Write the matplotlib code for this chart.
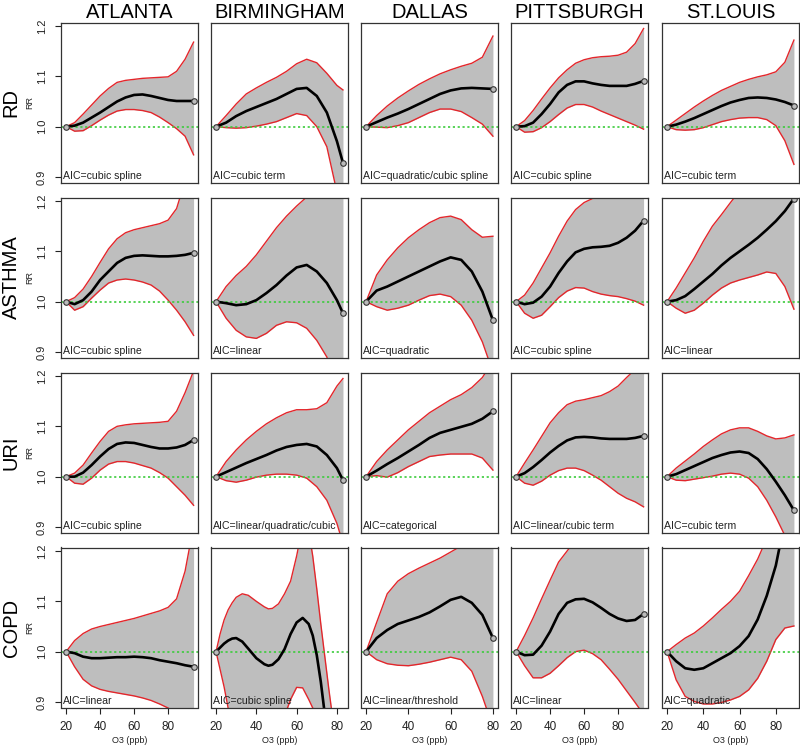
import numpy as np
import matplotlib
matplotlib.use("Agg")
import matplotlib.pyplot as plt

plt.rcParams['font.family'] = ['Liberation Sans', 'DejaVu Sans']

cities = ["ATLANTA", "BIRMINGHAM", "DALLAS", "PITTSBURGH", "ST.LOUIS"]
outcomes = ["RD", "ASTHMA", "URI", "COPD"]

# O3 grid (ppb) per city
atl_x = [20, 25, 30, 35, 40, 45, 50, 55, 60, 65, 70, 75, 80, 85, 90, 95]
bhm_x = [20, 25, 30, 35, 40, 45, 50, 55, 60, 65, 70, 75, 80, 83]
dal_x = [20, 25, 30, 35, 40, 45, 50, 55, 60, 65, 70, 75, 80]
pit_x = [20, 25, 30, 35, 40, 45, 50, 55, 60, 65, 70, 75, 80, 85, 90, 95]
stl_x = [20, 25, 30, 35, 40, 45, 50, 55, 60, 65, 70, 75, 80, 85, 90]
bhm_copd_x = [20, 22, 24, 26, 28, 30, 33, 36, 40, 44, 46, 48, 51, 54, 57, 60, 63, 66, 68, 70, 72, 74, 76, 78, 80, 83]

# RD
rd_atl_fit = [1.000, 1.002, 1.008, 1.018, 1.028, 1.039, 1.050, 1.058, 1.063, 1.064, 1.061, 1.057, 1.053, 1.051, 1.051, 1.051]
rd_atl_hi = [1.000, 1.008, 1.025, 1.043, 1.061, 1.076, 1.088, 1.092, 1.094, 1.096, 1.097, 1.098, 1.099, 1.110, 1.134, 1.168]
rd_atl_lo = [1.000, 0.991, 0.992, 1.002, 1.013, 1.023, 1.031, 1.034, 1.034, 1.032, 1.028, 1.019, 1.008, 0.996, 0.981, 0.944]
rd_bhm_fit = [1.000, 1.008, 1.021, 1.031, 1.039, 1.047, 1.055, 1.065, 1.075, 1.077, 1.061, 1.028, 0.971, 0.928]
rd_bhm_hi = [1.000, 1.022, 1.045, 1.065, 1.077, 1.088, 1.098, 1.110, 1.125, 1.134, 1.127, 1.106, 1.082, 1.073]
rd_bhm_lo = [1.000, 0.998, 0.997, 0.998, 1.001, 1.005, 1.010, 1.018, 1.026, 1.022, 1.000, 0.960, 0.870, 0.820]
rd_dal_fit = [1.000, 1.009, 1.018, 1.026, 1.035, 1.045, 1.055, 1.065, 1.072, 1.076, 1.077, 1.076, 1.075]
rd_dal_hi = [1.000, 1.022, 1.041, 1.057, 1.071, 1.084, 1.095, 1.105, 1.113, 1.120, 1.126, 1.138, 1.180]
rd_dal_lo = [1.000, 0.999, 0.998, 1.002, 1.008, 1.018, 1.028, 1.035, 1.035, 1.030, 1.018, 1.005, 0.981]
rd_pit_fit = [1.000, 1.001, 1.008, 1.025, 1.045, 1.068, 1.083, 1.090, 1.090, 1.086, 1.083, 1.081, 1.081, 1.081, 1.085, 1.091]
rd_pit_hi = [1.000, 1.012, 1.032, 1.055, 1.077, 1.097, 1.113, 1.126, 1.133, 1.137, 1.139, 1.140, 1.142, 1.148, 1.165, 1.195]
rd_pit_lo = [1.000, 0.989, 0.990, 0.998, 1.010, 1.024, 1.037, 1.044, 1.044, 1.039, 1.031, 1.024, 1.017, 1.010, 1.003, 0.995]
rd_stl_fit = [1.000, 1.004, 1.010, 1.017, 1.025, 1.033, 1.041, 1.048, 1.053, 1.057, 1.058, 1.057, 1.054, 1.049, 1.042]
rd_stl_hi = [1.000, 1.013, 1.026, 1.039, 1.051, 1.062, 1.072, 1.080, 1.088, 1.094, 1.099, 1.103, 1.109, 1.128, 1.172]
rd_stl_lo = [1.000, 0.994, 0.993, 0.994, 0.998, 1.004, 1.010, 1.014, 1.017, 1.018, 1.018, 1.014, 1.002, 0.972, 0.925]

# ASTHMA
as_atl_fit = [1.000, 0.995, 1.003, 1.020, 1.043, 1.060, 1.077, 1.087, 1.091, 1.092, 1.091, 1.090, 1.090, 1.091, 1.093, 1.097]
as_atl_hi = [1.000, 1.008, 1.025, 1.050, 1.078, 1.105, 1.125, 1.137, 1.143, 1.147, 1.151, 1.155, 1.162, 1.185, 1.240, 1.300]
as_atl_lo = [1.000, 0.983, 0.990, 1.007, 1.023, 1.037, 1.043, 1.045, 1.043, 1.039, 1.033, 1.021, 1.003, 0.983, 0.960, 0.933]
as_bhm_fit = [1.000, 0.997, 0.993, 0.995, 1.003, 1.017, 1.033, 1.052, 1.068, 1.073, 1.060, 1.037, 1.003, 0.977]
as_bhm_hi = [1.000, 1.030, 1.052, 1.070, 1.093, 1.120, 1.147, 1.170, 1.190, 1.208, 1.240, 1.270, 1.300, 1.320]
as_bhm_lo = [1.000, 0.967, 0.943, 0.930, 0.927, 0.937, 0.953, 0.960, 0.958, 0.947, 0.923, 0.890, 0.830, 0.790]
as_dal_fit = [1.000, 1.022, 1.030, 1.040, 1.050, 1.060, 1.070, 1.080, 1.088, 1.083, 1.060, 1.020, 0.963]
as_dal_hi = [1.000, 1.053, 1.083, 1.107, 1.127, 1.143, 1.157, 1.167, 1.170, 1.163, 1.143, 1.128, 1.130]
as_dal_lo = [1.000, 0.990, 0.983, 0.987, 0.993, 1.003, 1.012, 1.015, 1.010, 0.993, 0.963, 0.920, 0.860]
as_pit_fit = [1.000, 0.995, 0.998, 1.010, 1.030, 1.057, 1.080, 1.098, 1.105, 1.108, 1.109, 1.111, 1.117, 1.127, 1.141, 1.161]
as_pit_hi = [1.000, 1.013, 1.037, 1.067, 1.097, 1.130, 1.160, 1.183, 1.197, 1.205, 1.210, 1.215, 1.230, 1.250, 1.280, 1.320]
as_pit_lo = [1.000, 0.977, 0.967, 0.973, 0.990, 1.008, 1.021, 1.028, 1.027, 1.020, 1.015, 1.012, 1.010, 1.006, 1.001, 0.993]
as_stl_fit = [1.000, 1.003, 1.011, 1.025, 1.040, 1.055, 1.072, 1.087, 1.100, 1.113, 1.127, 1.143, 1.160, 1.180, 1.205]
as_stl_hi = [1.000, 1.027, 1.057, 1.087, 1.120, 1.150, 1.173, 1.197, 1.220, 1.245, 1.270, 1.295, 1.320, 1.345, 1.370]
as_stl_lo = [1.000, 0.987, 0.977, 0.983, 0.997, 1.013, 1.027, 1.037, 1.043, 1.048, 1.053, 1.059, 1.056, 1.030, 0.985]

# URI
ur_atl_fit = [1.000, 1.000, 1.008, 1.023, 1.040, 1.055, 1.065, 1.068, 1.067, 1.063, 1.059, 1.056, 1.056, 1.058, 1.063, 1.073]
ur_atl_hi = [1.000, 1.007, 1.023, 1.047, 1.070, 1.090, 1.100, 1.103, 1.105, 1.106, 1.107, 1.108, 1.110, 1.130, 1.167, 1.210]
ur_atl_lo = [1.000, 0.987, 0.985, 0.997, 1.013, 1.025, 1.030, 1.030, 1.027, 1.022, 1.017, 1.008, 0.997, 0.980, 0.963, 0.943]
ur_bhm_fit = [1.000, 1.009, 1.018, 1.027, 1.035, 1.043, 1.052, 1.059, 1.063, 1.065, 1.060, 1.043, 1.017, 0.993]
ur_bhm_hi = [1.000, 1.030, 1.053, 1.073, 1.090, 1.105, 1.117, 1.127, 1.133, 1.133, 1.135, 1.147, 1.180, 1.195]
ur_bhm_lo = [1.000, 0.992, 0.989, 0.993, 0.999, 1.003, 1.005, 1.005, 1.003, 0.997, 0.980, 0.953, 0.907, 0.867]
ur_dal_fit = [1.000, 1.012, 1.025, 1.037, 1.050, 1.063, 1.077, 1.087, 1.093, 1.099, 1.105, 1.115, 1.130]
ur_dal_hi = [1.000, 1.030, 1.053, 1.073, 1.093, 1.110, 1.127, 1.140, 1.153, 1.163, 1.177, 1.197, 1.230]
ur_dal_lo = [1.000, 1.002, 0.999, 1.008, 1.020, 1.030, 1.040, 1.043, 1.045, 1.045, 1.045, 1.037, 1.013]
ur_pit_fit = [1.000, 1.007, 1.019, 1.033, 1.048, 1.061, 1.072, 1.078, 1.079, 1.078, 1.076, 1.075, 1.075, 1.075, 1.077, 1.081]
ur_pit_hi = [1.000, 1.027, 1.053, 1.080, 1.107, 1.127, 1.143, 1.150, 1.153, 1.157, 1.161, 1.169, 1.180, 1.197, 1.213, 1.240]
ur_pit_lo = [1.000, 0.987, 0.983, 0.991, 1.003, 1.012, 1.017, 1.017, 1.012, 1.003, 0.993, 0.980, 0.967, 0.957, 0.950, 0.940]
ur_stl_fit = [1.000, 1.005, 1.013, 1.021, 1.029, 1.037, 1.043, 1.048, 1.050, 1.047, 1.035, 1.015, 0.990, 0.963, 0.933]
ur_stl_hi = [1.000, 1.017, 1.031, 1.045, 1.060, 1.073, 1.085, 1.093, 1.097, 1.097, 1.090, 1.081, 1.075, 1.077, 1.083]
ur_stl_lo = [1.000, 0.993, 0.992, 0.995, 0.998, 1.001, 1.005, 1.007, 1.005, 0.997, 0.980, 0.953, 0.920, 0.883, 0.840]

# COPD
co_atl_fit = [1.000, 0.997, 0.990, 0.987, 0.987, 0.988, 0.989, 0.989, 0.990, 0.989, 0.987, 0.983, 0.980, 0.977, 0.973, 0.970]
co_atl_hi = [1.000, 1.022, 1.036, 1.045, 1.050, 1.054, 1.058, 1.062, 1.066, 1.071, 1.076, 1.081, 1.088, 1.105, 1.160, 1.250]
co_atl_lo = [1.000, 0.970, 0.945, 0.932, 0.925, 0.921, 0.918, 0.915, 0.912, 0.908, 0.903, 0.896, 0.888, 0.875, 0.860, 0.845]
co_bhm_fit = [1.000, 1.008, 1.016, 1.022, 1.026, 1.027, 1.020, 1.006, 0.987, 0.975, 0.972, 0.974, 0.985, 1.005, 1.035, 1.058, 1.067, 1.055, 1.032, 0.993, 0.940, 0.875, 0.810, 0.750, 0.690, 0.600]
co_bhm_hi = [1.000, 1.035, 1.063, 1.083, 1.097, 1.108, 1.115, 1.112, 1.100, 1.089, 1.085, 1.086, 1.095, 1.115, 1.140, 1.190, 1.250, 1.240, 1.190, 1.125, 1.055, 0.990, 0.925, 0.865, 0.810, 0.730]
co_bhm_lo = [1.000, 0.965, 0.930, 0.888, 0.860, 0.840, 0.820, 0.810, 0.805, 0.810, 0.815, 0.825, 0.845, 0.872, 0.905, 0.929, 0.928, 0.905, 0.888, 0.870, 0.850, 0.830, 0.810, 0.790, 0.770, 0.740]
co_dal_fit = [1.000, 1.027, 1.043, 1.055, 1.062, 1.069, 1.078, 1.090, 1.103, 1.109, 1.097, 1.073, 1.027]
co_dal_hi = [1.000, 1.058, 1.115, 1.140, 1.155, 1.166, 1.176, 1.186, 1.198, 1.210, 1.220, 1.230, 1.240]
co_dal_lo = [1.000, 0.984, 0.976, 0.973, 0.972, 0.975, 0.979, 0.984, 0.989, 0.984, 0.961, 0.911, 0.850]
co_pit_fit = [1.000, 0.993, 0.994, 1.012, 1.040, 1.075, 1.097, 1.104, 1.105, 1.098, 1.087, 1.075, 1.066, 1.061, 1.063, 1.075]
co_pit_hi = [1.000, 1.032, 1.067, 1.105, 1.142, 1.178, 1.200, 1.222, 1.240, 1.260, 1.280, 1.300, 1.320, 1.340, 1.360, 1.380]
co_pit_lo = [1.000, 0.972, 0.948, 0.948, 0.957, 0.972, 0.988, 1.000, 1.003, 0.996, 0.984, 0.965, 0.945, 0.922, 0.899, 0.875]
co_stl_fit = [1.000, 0.981, 0.967, 0.964, 0.967, 0.977, 0.987, 0.997, 1.011, 1.031, 1.064, 1.111, 1.171, 1.260, 1.330]
co_stl_hi = [1.000, 1.014, 1.027, 1.037, 1.051, 1.067, 1.084, 1.100, 1.120, 1.151, 1.184, 1.225, 1.270, 1.310, 1.350]
co_stl_lo = [1.000, 0.944, 0.911, 0.901, 0.896, 0.896, 0.899, 0.904, 0.911, 0.924, 0.947, 0.981, 1.024, 1.047, 1.051]

aic = [
    ["AIC=cubic spline", "AIC=cubic term", "AIC=quadratic/cubic spline", "AIC=cubic spline", "AIC=cubic term"],
    ["AIC=cubic spline", "AIC=linear", "AIC=quadratic", "AIC=cubic spline", "AIC=linear"],
    ["AIC=cubic spline", "AIC=linear/quadratic/cubic", "AIC=categorical", "AIC=linear/cubic term", "AIC=cubic term"],
    ["AIC=linear", "AIC=cubic spline", "AIC=linear/threshold", "AIC=linear", "AIC=quadratic"],
]

panels = [
    [(atl_x, rd_atl_fit, rd_atl_lo, rd_atl_hi), (bhm_x, rd_bhm_fit, rd_bhm_lo, rd_bhm_hi),
     (dal_x, rd_dal_fit, rd_dal_lo, rd_dal_hi), (pit_x, rd_pit_fit, rd_pit_lo, rd_pit_hi),
     (stl_x, rd_stl_fit, rd_stl_lo, rd_stl_hi)],
    [(atl_x, as_atl_fit, as_atl_lo, as_atl_hi), (bhm_x, as_bhm_fit, as_bhm_lo, as_bhm_hi),
     (dal_x, as_dal_fit, as_dal_lo, as_dal_hi), (pit_x, as_pit_fit, as_pit_lo, as_pit_hi),
     (stl_x, as_stl_fit, as_stl_lo, as_stl_hi)],
    [(atl_x, ur_atl_fit, ur_atl_lo, ur_atl_hi), (bhm_x, ur_bhm_fit, ur_bhm_lo, ur_bhm_hi),
     (dal_x, ur_dal_fit, ur_dal_lo, ur_dal_hi), (pit_x, ur_pit_fit, ur_pit_lo, ur_pit_hi),
     (stl_x, ur_stl_fit, ur_stl_lo, ur_stl_hi)],
    [(atl_x, co_atl_fit, co_atl_lo, co_atl_hi), (bhm_copd_x, co_bhm_fit, co_bhm_lo, co_bhm_hi),
     (dal_x, co_dal_fit, co_dal_lo, co_dal_hi), (pit_x, co_pit_fit, co_pit_lo, co_pit_hi),
     (stl_x, co_stl_fit, co_stl_lo, co_stl_hi)],
]

# R-style 4% padding around the data range
xlims = [(17.0, 97.6), (17.5, 85.5), (17.6, 82.4), (17.0, 97.6), (17.2, 92.8)]
ylim = (0.889, 1.207)

W, H = 800, 748
col_left = [61, 211, 361, 511, 662]
row_top = [22.5, 197.5, 372.5, 547.5]
pw, ph = 137, 160

fig = plt.figure(figsize=(W / 100, H / 100), dpi=100)

for r in range(4):
    for c in range(5):
        ax = fig.add_axes([col_left[c] / W, 1 - (row_top[r] + ph) / H, pw / W, ph / H])
        x, fit, lo, hi = panels[r][c]
        ax.fill_between(x, lo, hi, color="#bebebe", lw=0)
        ax.plot(x, lo, color="#e3262b", lw=1.0)
        ax.plot(x, hi, color="#e3262b", lw=1.0)
        ax.axhline(1.0, color="#3ccc3c", ls=(0, (1.3, 1.6)), lw=1.2)
        ax.plot(x, fit, color="black", lw=1.9, solid_capstyle="round")
        ax.plot([x[0], x[-1]], [fit[0], fit[-1]], "o", ms=4, mfc="#bbbbbb",
                mec="#333333", mew=0.8)
        ax.set_xlim(xlims[c])
        ax.set_ylim(ylim)
        for s in ax.spines.values():
            s.set_color("#333333")
            s.set_linewidth(0.9)
        ax.text(0.012, 0.012, aic[r][c], transform=ax.transAxes, fontsize=7.6,
                ha="left", va="bottom", color="#222222")
        if c == 0:
            ax.set_yticks([0.9, 1.0, 1.1, 1.2])
            ax.set_yticklabels(["0.9", "1.0", "1.1", "1.2"], rotation=90, va="center")
            ax.tick_params(axis="y", length=4, width=0.8, pad=6, labelsize=8,
                           colors="#222222")
            ax.set_ylabel("RR", fontsize=6.5, labelpad=2, color="#222222")
        else:
            ax.set_yticks([])
        if r == 3:
            ax.set_xticks([20, 40, 60, 80])
            ax.tick_params(axis="x", length=4, width=0.8, pad=6, labelsize=8.5,
                           colors="#222222")
            ax.set_xlabel("O3 (ppb)", fontsize=6.5, labelpad=2, color="#222222")
        else:
            ax.set_xticks([])

for c, name in enumerate(cities):
    fig.text((col_left[c] + pw / 2) / W, 1 - 12 / H, name, ha="center", va="center",
             fontsize=14.5)

for r, name in enumerate(outcomes):
    fig.text(11 / W, 1 - (row_top[r] + ph / 2) / H, name, ha="center", va="center",
             rotation=90, fontsize=14.5)

fig.savefig("out.png", dpi=100)
